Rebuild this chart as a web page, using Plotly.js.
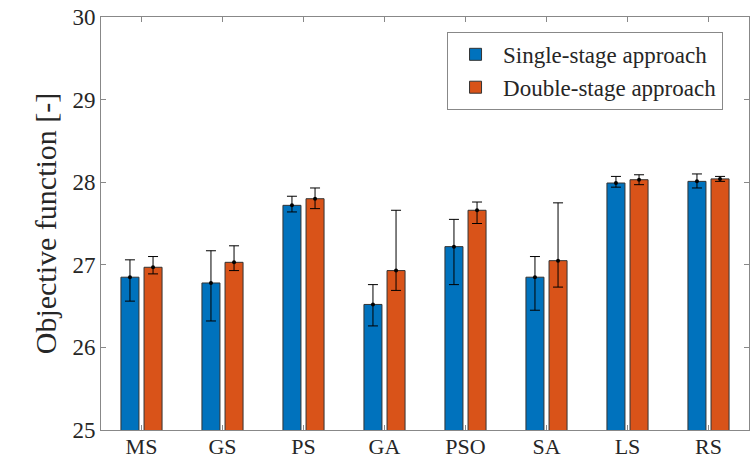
<!DOCTYPE html>
<html>
<head>
<meta charset="utf-8">
<script src="https://cdn.plot.ly/plotly-3.0.1.min.js"></script>
<style>html,body{margin:0;padding:0;background:#fff;}#chart{width:756px;height:462px;}</style>
</head>
<body>
<div id="chart"></div>
<script>
const categories = ['MS', 'GS', 'PS', 'GA', 'PSO', 'SA', 'LS', 'RS'];
const singleStage = [26.85, 26.78, 27.72, 26.52, 27.22, 26.85, 27.99, 28.01];
const singleErrUp = [0.21, 0.39, 0.11, 0.24, 0.33, 0.25, 0.08, 0.09];
const singleErrDown = [0.29, 0.46, 0.08, 0.26, 0.46, 0.40, 0.05, 0.08];
const doubleStage = [26.97, 27.03, 27.80, 26.93, 27.66, 27.05, 28.03, 28.04];
const doubleErrUp = [0.13, 0.20, 0.13, 0.73, 0.10, 0.70, 0.06, 0.03];
const doubleErrDown = [0.08, 0.10, 0.12, 0.24, 0.16, 0.32, 0.06, 0.03];
const yTicks = [25, 26, 27, 28, 29, 30];

const font = '"Liberation Serif", "Times New Roman", serif';
const errStyle = (up, down) => ({type: 'data', symmetric: false, array: up, arrayminus: down,
  color: '#000', thickness: 1, width: 5});

const traces = [
  {type: 'bar', name: 'Single-stage approach', x: categories, y: singleStage,
   marker: {color: '#0072BD', line: {color: '#333', width: 1}},
   error_y: errStyle(singleErrUp, singleErrDown), offsetgroup: 'a'},
  {type: 'bar', name: 'Double-stage approach', x: categories, y: doubleStage,
   marker: {color: '#D95319', line: {color: '#333', width: 1}},
   error_y: errStyle(doubleErrUp, doubleErrDown), offsetgroup: 'b'},
  {type: 'scatter', mode: 'markers', x: categories, y: singleStage, showlegend: false,
   marker: {color: '#000', size: 4}, offsetgroup: 'a', hoverinfo: 'skip'},
  {type: 'scatter', mode: 'markers', x: categories, y: doubleStage, showlegend: false,
   marker: {color: '#000', size: 4}, offsetgroup: 'b', hoverinfo: 'skip'}
];

const layout = {
  width: 756, height: 462,
  margin: {l: 101, r: 7, t: 17, b: 32},
  paper_bgcolor: '#fff', plot_bgcolor: '#fff',
  font: {family: font, size: 22, color: '#262626'},
  barmode: 'group', bargap: 0.43, bargroupgap: 0.22,
  scattermode: 'group', scattergap: 0.43,
  showlegend: true,
  legend: {x: 0.534, y: 0.964, xanchor: 'left', yanchor: 'top',
    bgcolor: '#fff', bordercolor: '#888', borderwidth: 1,
    font: {family: font, size: 23, color: '#262626'}, itemwidth: 45, tracegroupgap: 0},
  xaxis: {type: 'category', showgrid: false, zeroline: false,
    showline: true, linecolor: '#888', linewidth: 1, mirror: 'ticks',
    ticks: 'inside', ticklen: 5, tickcolor: '#888', range: [-0.5, 7.5],
    ticklabelstandoff: -3,
    tickfont: {family: font, size: 22, color: '#262626'}},
  yaxis: {range: [25, 30], tickvals: yTicks, showgrid: false, zeroline: false,
    showline: true, linecolor: '#888', linewidth: 1, mirror: 'ticks',
    ticks: 'inside', ticklen: 5, tickcolor: '#888',
    tickfont: {family: font, size: 23, color: '#262626'},
    title: {text: 'Objective function [-]', font: {family: font, size: 30, color: '#262626'}, standoff: 6}}
};

Plotly.newPlot('chart', traces, layout, {displayModeBar: false, staticPlot: true});
</script>
</body>
</html>
